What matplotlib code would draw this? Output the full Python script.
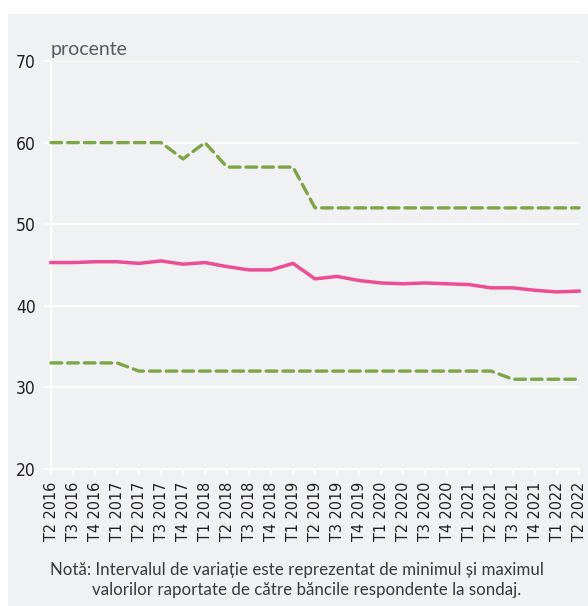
import numpy as np
import matplotlib
matplotlib.use("Agg")
import matplotlib.pyplot as plt
from matplotlib import font_manager
from matplotlib.patches import Rectangle

# quarters T2 2016 .. T2 2022
labels = ["T2 2016", "T3 2016", "T4 2016",
          "T1 2017", "T2 2017", "T3 2017", "T4 2017",
          "T1 2018", "T2 2018", "T3 2018", "T4 2018",
          "T1 2019", "T2 2019", "T3 2019", "T4 2019",
          "T1 2020", "T2 2020", "T3 2020", "T4 2020",
          "T1 2021", "T2 2021", "T3 2021", "T4 2021",
          "T1 2022", "T2 2022"]
maxim = [60, 60, 60, 60, 60, 60, 58, 60, 57, 57, 57, 57,
         52, 52, 52, 52, 52, 52, 52, 52, 52, 52, 52, 52, 52]
minim = [33, 33, 33, 33, 32, 32, 32, 32, 32, 32, 32, 32,
         32, 32, 32, 32, 32, 32, 32, 32, 32, 31, 31, 31, 31]
media = [45.3, 45.3, 45.4, 45.4, 45.2, 45.5, 45.1, 45.3, 44.8, 44.4, 44.4, 45.2,
         43.3, 43.6, 43.1, 42.8, 42.7, 42.8, 42.7, 42.6, 42.2, 42.2, 41.9, 41.7, 41.8]
yticks = [20, 30, 40, 50, 60, 70]

BG = "#f0f1f3"
PINK = "#ec4d95"
GREEN = "#7da548"
DARK = "#231f20"

# a narrow face for the tick labels, if one is installed
names = {f.name for f in font_manager.fontManager.ttflist}
cond = {f.name for f in font_manager.fontManager.ttflist if f.stretch in ("condensed", "semi-condensed")}
if "Liberation Sans Narrow" in names:
    tick_font = dict(fontfamily="Liberation Sans Narrow")
elif "DejaVu Sans" in cond:
    tick_font = dict(fontfamily="DejaVu Sans", fontstretch="condensed")
else:
    tick_font = dict(fontfamily="DejaVu Sans")

W, H = 588, 606
fig = plt.figure(figsize=(W / 100, H / 100), dpi=100)
fig.patch.set_facecolor("white")
fig.patches.append(Rectangle((8 / W, 0), 1, (H - 14) / H, transform=fig.transFigure,
                             facecolor=BG, edgecolor="none", zorder=-10))

ax = fig.add_axes([51 / W, (H - 469) / H, 528 / W, 408 / H])
ax.set_facecolor(BG)
x = np.arange(len(labels))

ax.plot(x, maxim, color=GREEN, lw=2.4, ls=(0, (3.2, 1.8)), dash_capstyle="round", clip_on=False, zorder=3)
ax.plot(x, minim, color=GREEN, lw=2.4, ls=(0, (3.2, 1.8)), dash_capstyle="round", clip_on=False, zorder=3)
ax.plot(x, media, color=PINK, lw=2.5, solid_joinstyle="round", clip_on=False, zorder=4)

ax.set_xlim(0, len(labels) - 1)
ax.set_ylim(20, 70)
ax.set_yticks(yticks)
ax.set_xticks(x)
ax.set_xticklabels(labels, rotation=90, fontsize=11.5, color=DARK, **tick_font)
ax.set_yticklabels([str(v) for v in yticks], fontsize=12.5, color=DARK, **tick_font)
ax.grid(axis="y", color="white", lw=1.5)
ax.set_axisbelow(True)
for s in ["top", "right"]:
    ax.spines[s].set_visible(False)
for s in ["left", "bottom"]:
    ax.spines[s].set_color("white")
    ax.spines[s].set_linewidth(1.5)
ax.tick_params(axis="y", length=5, width=1.5, color="white", pad=6)
ax.tick_params(axis="x", length=4, width=1.2, color="white", pad=5)

fig.text(51 / W, 1 - 55 / H, "procente", fontfamily="Lato",
         fontsize=14, color="#5a5a5a", ha="left", va="baseline")
fig.text(50 / W, 1 - 575 / H,
         "Notă: Intervalul de variație este reprezentat de minimul și maximul",
         fontfamily="Lato", fontsize=12.2, color="#3a3a3a",
         ha="left", va="baseline")
fig.text(92 / W, 1 - 595 / H,
         "valorilor raportate de către băncile respondente la sondaj.",
         fontfamily="Lato", fontsize=12.2, color="#3a3a3a",
         ha="left", va="baseline")

fig.savefig("out.png", dpi=100, facecolor=fig.get_facecolor())
